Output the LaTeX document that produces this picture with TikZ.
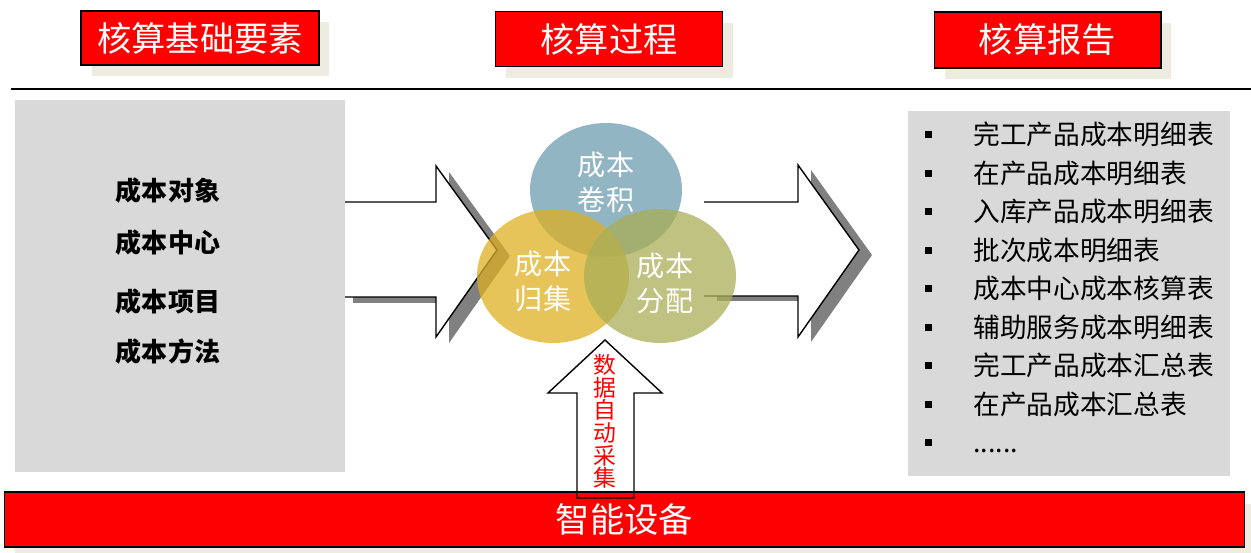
\documentclass[tikz,border=0pt]{standalone}
\usepackage{fontspec}
\newfontfamily\cjk{Noto Sans CJK SC}
\usetikzlibrary{shapes.geometric,shadows,positioning}

\definecolor{boxred}{HTML}{FF0000}
\definecolor{shadowbeige}{HTML}{EEECE1}
\definecolor{panelgray}{HTML}{D9D9D9}
\definecolor{arrowshade}{HTML}{808080}
\definecolor{rollblue}{HTML}{6D9CB0}
\definecolor{collectgold}{HTML}{DDB023}
\definecolor{allocolive}{HTML}{AAAE57}

\newcommand{\repdots}{......}

\tikzset{
  titlebox/.style={draw=black, line width=0.6pt, fill=boxred, text=white, inner sep=0pt,
    font=\cjk\fontsize{19.5}{23}\selectfont,
    drop shadow={shadow xshift=0.21cm, shadow yshift=-0.23cm, fill=shadowbeige, opacity=1}},
  panel/.style={fill=panelgray, inner sep=0pt},
  element/.style={font=\cjk\bfseries\fontsize{14.8}{18}\selectfont},
  venn/.style={ellipse, minimum width=3.04cm, minimum height=2.68cm, fill opacity=0.75, inner sep=0pt},
  venntext/.style={text=white, align=center, font=\cjk\fontsize{16}{19.9}\selectfont},
  bigarrow/.style={draw=black, line width=0.8pt, fill=white, line join=miter},
  arrowshadow/.style={fill=arrowshade},
  reportitem/.style={anchor=west, inner sep=0pt, text height=0.88em, text depth=0.12em,
    font=\cjk\fontsize{15.2}{18}\selectfont},
  bulletsq/.style={fill=black, minimum size=0.14cm, inner sep=0pt},
}

\begin{document}
\begin{tikzpicture}[x=0.02cm, y=-0.02cm]
    \useasboundingbox (0,0) rectangle (1251,553);

    % column titles
    \node[titlebox, minimum width=4.76cm, minimum height=1.08cm] (elemtitle) at (200,38) {核算基础要素};
    \node[titlebox, minimum width=4.54cm, minimum height=1.1cm] (proctitle) at (609,39) {核算过程};
    \node[titlebox, minimum width=4.54cm, minimum height=1.12cm] (reptitle) at (1047.5,40) {核算报告};
    \draw[line width=0.6pt] (11,89) -- (1251,89);

    % big arrows with shadows
    \fill[arrowshadow] (353,208) -- (449,208) -- (449,172) -- (510,256) -- (449,343) -- (449,303) -- (353,303) -- cycle;
    \draw[bigarrow] (340,202) -- (436,202) -- (436,166) -- (497,250) -- (436,337) -- (436,297) -- (340,297);
    \fill[arrowshadow] (717,207) -- (811,207) -- (811,170) -- (872,255) -- (811,342) -- (811,301) -- (717,301) -- cycle;
    \draw[bigarrow] (704,202) -- (798,202) -- (798,165) -- (859,250) -- (798,337) -- (798,296) -- (704,296);

    % panels
    \node[panel, minimum width=6.6cm, minimum height=7.44cm] (elempanel) at (180,286) {};
    \node[panel, minimum width=6.44cm, minimum height=7.3cm] (reppanel) at (1069,293.5) {};

    % process circles
    \node[venn, fill=rollblue] (roll) at (606,190) {};
    \node[venn, fill=collectgold] (collect) at (553,276) {};
    \node[venn, fill=allocolive] (alloc) at (660,276) {};
    \node[venntext] (rolltext) at (606,182) {成本\\卷积};
    \node[venntext] (collecttext) at (543,281) {成本\\归集};
    \node[venntext] (alloctext) at (665,283) {成本\\分配};

    % elements
    \foreach \t/\y [count=\i] in {成本对象/191, 成本中心/243, 成本项目/302, 成本方法/352}
        \node[element] (elem\i) at (168,\y) {\t};

    % reports
    \foreach \t [count=\i from 0] in {完工产品成本明细表, 在产品成本明细表, 入库产品成本明细表,
        批次成本明细表, 成本中心成本核算表, 辅助服务成本明细表, 完工产品成本汇总表,
        在产品成本汇总表, \repdots} {
        \node[bulletsq] (dot\i) at (928,135+38.5*\i) {};
        \node[reportitem] (rep\i) at (973,138+38.5*\i) {\t};
    }

    % device bar and data arrow
    \node[titlebox, minimum width=24.82cm, minimum height=1.1cm] (device) at (624.5,519.5) {智能设备};
    \draw[line width=0.8pt, line join=miter] (577,498) -- (577,393) -- (548,393) -- (605,340)
        -- (662,393) -- (634,393) -- (634,498) -- cycle;
    \node[text=red, align=center, inner sep=0pt, font=\cjk\fontsize{13}{12.9}\selectfont] (collectdata)
        at (605,421.5) {数\\据\\自\\动\\采\\集};
\end{tikzpicture}
\end{document}
